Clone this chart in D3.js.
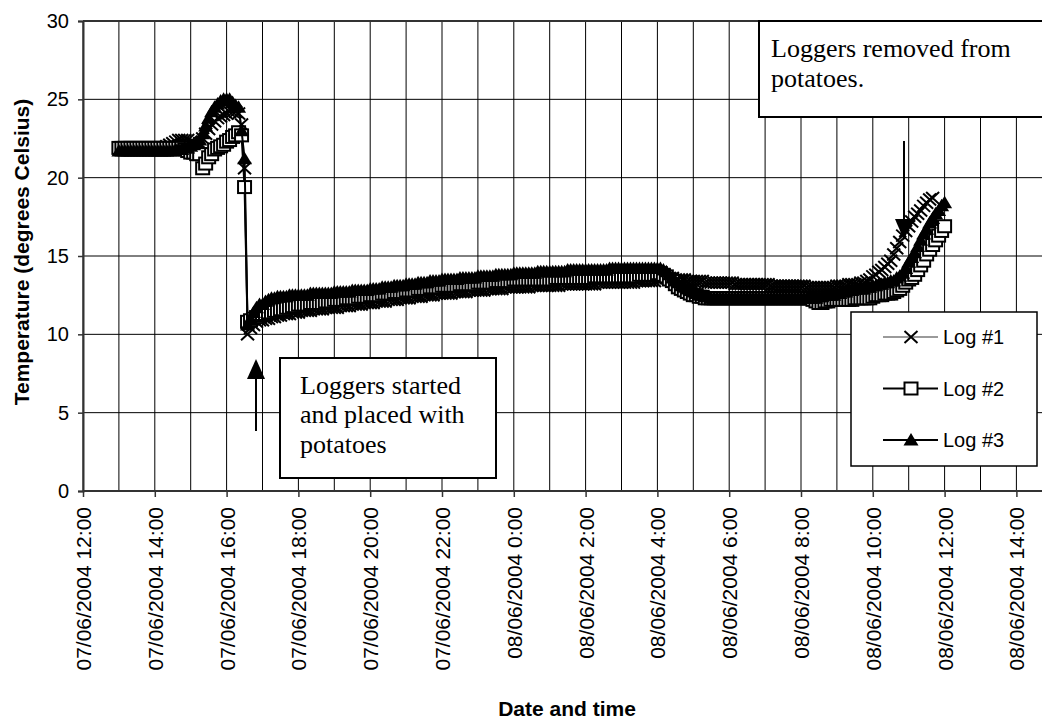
<!DOCTYPE html>
<html>
<head>
<meta charset="utf-8">
<script src="https://cdn.jsdelivr.net/npm/d3@7"></script>
<style>
  body { margin: 0; background: #fff; }
  svg { display: block; }
</style>
</head>
<body>
<svg id="chart" width="1042" height="722"></svg>
<script>
// Logger readings, one every 5 minutes starting 07/06/2004 13:00 (one row per hour)
const seriesNames = ["Log #1", "Log #2", "Log #3"];
const startTime = new Date(2004, 5, 7, 13, 0);
const stepMinutes = 5;

const log1 = [
  21.9,21.9,21.9,21.9,21.9,21.9,21.9,21.9,21.9,21.9,21.9,21.9,
  21.9,21.9,21.9,21.9,22.0,22.1,22.2,22.3,22.4,22.4,22.4,22.4,
  22.3,22.2,22.1,22.2,22.5,22.8,23.1,23.4,23.6,23.8,23.9,24.0,
  24.1,24.2,24.2,24.2,24.1,23.4,20.6,10.0,10.4,10.6,10.8,10.9,
  10.9,11.0,11.0,11.1,11.1,11.2,11.2,11.3,11.3,11.3,11.4,11.4,
  11.4,11.5,11.5,11.5,11.5,11.6,11.6,11.6,11.6,11.7,11.7,11.7,
  11.7,11.7,11.8,11.8,11.8,11.8,11.9,11.9,11.9,11.9,12.0,12.0,
  12.0,12.0,12.1,12.1,12.1,12.1,12.2,12.2,12.2,12.2,12.3,12.3,
  12.3,12.3,12.4,12.4,12.4,12.4,12.5,12.5,12.5,12.5,12.6,12.6,
  12.6,12.6,12.6,12.6,12.7,12.7,12.7,12.7,12.7,12.8,12.8,12.8,
  12.8,12.8,12.8,12.9,12.9,12.9,12.9,12.9,12.9,13.0,13.0,13.0,
  13.0,13.0,13.0,13.0,13.0,13.0,13.1,13.1,13.1,13.1,13.1,13.1,
  13.1,13.1,13.1,13.1,13.2,13.2,13.2,13.2,13.2,13.2,13.2,13.2,
  13.2,13.2,13.2,13.2,13.3,13.3,13.3,13.3,13.3,13.3,13.3,13.3,
  13.3,13.3,13.3,13.3,13.3,13.4,13.4,13.4,13.4,13.4,13.4,13.4,
  13.5,13.5,13.6,13.6,13.6,13.6,13.5,13.5,13.5,13.5,13.4,13.4,
  13.4,13.4,13.4,13.4,13.3,13.3,13.3,13.3,13.3,13.3,13.3,13.3,
  13.3,13.3,13.2,13.2,13.2,13.2,13.2,13.2,13.2,13.2,13.2,13.2,
  13.2,13.2,13.1,13.1,13.1,13.1,13.1,13.1,13.1,13.1,13.1,13.1,
  13.1,13.1,13.0,13.0,13.0,13.0,13.0,13.0,13.0,13.0,13.0,13.0,
  13.1,13.1,13.1,13.1,13.2,13.2,13.2,13.2,13.3,13.3,13.4,13.5,
  13.7,13.8,14.0,14.1,14.3,14.5,14.7,15.1,15.5,15.9,16.3,16.6,
  16.9,17.2,17.5,17.7,17.9,18.2,18.4,18.6,18.7
];

const log2 = [
  21.9,21.9,21.9,21.9,21.9,21.9,21.9,21.9,21.9,21.9,21.9,21.9,
  21.9,21.9,21.9,21.9,21.9,21.9,21.9,21.9,21.9,21.9,21.8,21.7,
  21.6,21.6,21.5,21.5,20.6,20.9,21.3,21.5,21.8,21.9,22.0,22.1,
  22.3,22.4,22.6,22.7,22.9,22.7,19.4,10.8,10.9,11.0,11.1,11.2,
  11.3,11.3,11.4,11.4,11.5,11.5,11.6,11.6,11.7,11.7,11.8,11.8,
  11.9,11.9,11.9,11.9,12.0,12.0,12.0,12.0,12.0,12.1,12.1,12.1,
  12.2,12.2,12.2,12.2,12.3,12.3,12.3,12.3,12.4,12.4,12.4,12.4,
  12.5,12.5,12.5,12.5,12.6,12.6,12.6,12.6,12.7,12.7,12.7,12.7,
  12.8,12.8,12.8,12.8,12.9,12.9,12.9,12.9,13.0,13.0,13.0,13.0,
  13.1,13.1,13.1,13.1,13.1,13.1,13.2,13.2,13.2,13.2,13.2,13.2,
  13.3,13.3,13.3,13.3,13.3,13.3,13.4,13.4,13.4,13.4,13.4,13.4,
  13.5,13.5,13.5,13.5,13.5,13.5,13.5,13.5,13.5,13.5,13.5,13.5,
  13.5,13.5,13.6,13.6,13.6,13.6,13.6,13.6,13.6,13.6,13.6,13.6,
  13.6,13.6,13.6,13.7,13.7,13.7,13.7,13.7,13.7,13.7,13.7,13.7,
  13.7,13.7,13.7,13.7,13.7,13.7,13.8,13.8,13.8,13.8,13.8,13.8,
  13.9,13.9,13.8,13.7,13.5,13.4,13.2,13.0,12.9,12.8,12.7,12.6,
  12.5,12.5,12.4,12.4,12.3,12.3,12.3,12.3,12.3,12.3,12.3,12.3,
  12.3,12.3,12.3,12.3,12.3,12.3,12.3,12.3,12.3,12.3,12.3,12.3,
  12.3,12.3,12.3,12.3,12.3,12.3,12.3,12.3,12.3,12.3,12.3,12.3,
  12.3,12.3,12.3,12.3,12.2,12.1,12.0,12.0,12.1,12.1,12.2,12.2,
  12.2,12.2,12.2,12.2,12.2,12.2,12.3,12.3,12.3,12.3,12.3,12.3,
  12.4,12.5,12.5,12.5,12.6,12.6,12.6,12.7,12.8,12.9,13.1,13.3,
  13.5,13.6,13.8,14.1,14.4,14.7,15.1,15.4,15.7,16.0,16.3,16.6,
  16.9
];

const log3 = [
  21.7,21.7,21.7,21.7,21.7,21.7,21.7,21.7,21.7,21.7,21.7,21.7,
  21.7,21.7,21.7,21.7,21.7,21.7,21.7,21.8,21.8,21.8,21.9,21.9,
  22.0,22.1,22.2,22.4,22.8,23.3,23.8,24.2,24.5,24.7,24.9,25.0,
  25.0,25.0,24.8,24.6,24.5,23.0,21.2,10.6,11.0,11.4,11.7,11.9,
  11.9,12.1,12.2,12.3,12.3,12.4,12.4,12.4,12.4,12.5,12.5,12.5,
  12.5,12.5,12.5,12.5,12.6,12.6,12.6,12.6,12.6,12.6,12.6,12.6,
  12.7,12.7,12.7,12.7,12.7,12.7,12.8,12.8,12.8,12.8,12.8,12.8,
  12.9,12.9,12.9,12.9,13.0,13.0,13.0,13.0,13.1,13.1,13.1,13.1,
  13.2,13.2,13.2,13.2,13.3,13.3,13.3,13.3,13.4,13.4,13.4,13.4,
  13.5,13.5,13.5,13.5,13.5,13.5,13.6,13.6,13.6,13.6,13.6,13.6,
  13.7,13.7,13.7,13.7,13.7,13.7,13.8,13.8,13.8,13.8,13.8,13.8,
  13.9,13.9,13.9,13.9,13.9,13.9,13.9,13.9,14.0,14.0,14.0,14.0,
  14.0,14.0,14.0,14.0,14.0,14.0,14.1,14.1,14.1,14.1,14.1,14.1,
  14.1,14.1,14.1,14.1,14.1,14.1,14.1,14.1,14.2,14.2,14.2,14.2,
  14.2,14.2,14.2,14.2,14.2,14.2,14.2,14.2,14.2,14.2,14.2,14.2,
  14.2,14.2,14.1,14.0,13.8,13.6,13.4,13.3,13.1,13.0,12.9,12.8,
  12.7,12.6,12.5,12.5,12.4,12.4,12.3,12.3,12.3,12.3,12.3,12.3,
  12.3,12.3,12.3,12.3,12.3,12.3,12.3,12.3,12.3,12.3,12.3,12.3,
  12.3,12.3,12.3,12.3,12.3,12.3,12.3,12.3,12.3,12.3,12.3,12.3,
  12.3,12.3,12.3,12.3,12.3,12.3,12.4,12.4,12.5,12.5,12.5,12.5,
  12.6,12.6,12.7,12.7,12.8,12.8,12.9,12.9,12.9,12.9,13.0,13.0,
  13.1,13.1,13.2,13.2,13.3,13.3,13.4,13.4,13.6,13.7,13.9,14.2,
  14.6,14.9,15.2,15.6,16.0,16.4,16.7,17.1,17.4,17.7,17.9,18.2,
  18.4
];

const yTicks = [0, 5, 10, 15, 20, 25, 30];
const xTickLabels = [
  "07/06/2004 12:00", "07/06/2004 14:00", "07/06/2004 16:00",
  "07/06/2004 18:00", "07/06/2004 20:00", "07/06/2004 22:00",
  "08/06/2004 0:00", "08/06/2004 2:00", "08/06/2004 4:00",
  "08/06/2004 6:00", "08/06/2004 8:00", "08/06/2004 10:00",
  "08/06/2004 12:00", "08/06/2004 14:00"
];
const notes = {
  started: ["Loggers started", "and placed with", "potatoes"],
  removed: ["Loggers removed from", "potatoes."]
};

const svg = d3.select("#chart");
const W = 1042, H = 722;
const plotLeft = 83, plotTop = 21, plotBottom = 491;

const tStart = new Date(2004, 5, 7, 12, 0);
const tEnd = new Date(2004, 5, 8, 14, 0);
const x = d3.scaleTime().domain([tStart, tEnd]).range([plotLeft, 1016.4]);
const y = d3.scaleLinear().domain([0, 30]).range([plotBottom, plotTop]);

const timeAt = i => d3.timeMinute.offset(startTime, i * stepMinutes);
const toPoints = arr => arr.map((v, i) => ({ t: timeAt(i), v }));
const series = [
  { name: seriesNames[0], pts: toPoints(log1), line: "#9a9a9a", marker: "x" },
  { name: seriesNames[1], pts: toPoints(log2), line: "#000", marker: "square" },
  { name: seriesNames[2], pts: toPoints(log3), line: "#000", marker: "triangle" }
];

svg.append("defs").append("clipPath").attr("id", "plotclip")
  .append("rect").attr("x", plotLeft).attr("y", plotTop - 2)
  .attr("width", W - plotLeft).attr("height", plotBottom - plotTop + 4);

// grid: hourly verticals, 5-degree horizontals
const plot = svg.append("g");
const gridHours = d3.timeHour.range(tStart, d3.timeHour.offset(tEnd, 2));
plot.append("g").selectAll("line").data(gridHours).join("line")
  .attr("x1", d => x(d)).attr("x2", d => x(d))
  .attr("y1", plotTop).attr("y2", plotBottom)
  .attr("stroke", "#000").attr("stroke-width", 1);
plot.append("g").selectAll("line").data(yTicks.filter(v => v > 0)).join("line")
  .attr("x1", plotLeft).attr("x2", W)
  .attr("y1", d => y(d)).attr("y2", d => y(d))
  .attr("stroke", "#000").attr("stroke-width", 1);

// marker shapes
function drawMarker(g, type) {
  if (type === "x") {
    g.append("path").attr("d", "M-6.5,-6L6.5,6M-6.5,6L6.5,-6")
      .attr("stroke", "#000").attr("stroke-width", 2).attr("fill", "none");
  } else if (type === "square") {
    g.append("rect").attr("x", -6.5).attr("y", -6).attr("width", 13).attr("height", 12)
      .attr("fill", "#fff").attr("stroke", "#000").attr("stroke-width", 2);
  } else {
    g.append("path").attr("d", "M0,-7L7.5,5.5L-7.5,5.5Z").attr("fill", "#000");
  }
}

const dataLayer = svg.append("g").attr("clip-path", "url(#plotclip)");
const lineGen = d3.line().x(d => x(d.t)).y(d => y(d.v));
series.forEach(s => {
  const g = dataLayer.append("g");
  g.append("path").datum(s.pts).attr("d", lineGen)
    .attr("fill", "none").attr("stroke", s.line).attr("stroke-width", 2);
  g.selectAll("g.m").data(s.pts).join("g").attr("class", "m")
    .attr("transform", d => `translate(${x(d.t)},${y(d.v)})`)
    .each(function () { drawMarker(d3.select(this), s.marker); });
});

// axes
const yAxis = d3.axisLeft(y).tickValues(yTicks).tickSize(5).tickPadding(9);
const yG = svg.append("g").attr("transform", `translate(${plotLeft},0)`).call(yAxis);
yG.select(".domain").attr("stroke", "#333").attr("stroke-width", 2);
yG.selectAll(".tick line").attr("stroke", "#333").attr("stroke-width", 1.5);
yG.selectAll(".tick text").attr("font-family", "Liberation Sans, Arial, sans-serif")
  .attr("font-size", 20).attr("fill", "#000");

const xTickDates = d3.timeHour.every(2).range(tStart, d3.timeMinute.offset(tEnd, 1));
const xAxis = d3.axisBottom(x).tickValues(xTickDates)
  .tickFormat((d, i) => xTickLabels[i]).tickSize(6).tickSizeOuter(0);
const xG = svg.append("g").attr("transform", `translate(0,${plotBottom})`).call(xAxis);
xG.select(".domain").remove();
xG.selectAll(".tick line").attr("stroke", "#333").attr("stroke-width", 1.5);
xG.selectAll(".tick text")
  .attr("font-family", "Liberation Sans, Arial, sans-serif").attr("font-size", 21).attr("fill", "#000")
  .attr("text-anchor", "end").attr("transform", "translate(0,16) rotate(-90)")
  .attr("x", 0).attr("y", 0).attr("dy", "0.36em");

svg.append("line").attr("x1", plotLeft).attr("x2", W).attr("y1", plotBottom).attr("y2", plotBottom)
  .attr("stroke", "#333").attr("stroke-width", 2);
svg.append("line").attr("x1", plotLeft).attr("x2", W).attr("y1", plotTop).attr("y2", plotTop)
  .attr("stroke", "#333").attr("stroke-width", 2);

// axis titles
svg.append("text").attr("x", 567).attr("y", 716).attr("text-anchor", "middle")
  .attr("font-family", "Liberation Sans, Arial, sans-serif").attr("font-weight", "bold")
  .attr("font-size", 21).text("Date and time");
svg.append("text").attr("transform", "translate(29,252) rotate(-90)").attr("text-anchor", "middle")
  .attr("font-family", "Liberation Sans, Arial, sans-serif").attr("font-weight", "bold")
  .attr("font-size", 21).text("Temperature (degrees Celsius)");

// annotation boxes
function noteBox(bx, by, bw, bh, tx, baselines, lines) {
  const g = svg.append("g");
  g.append("rect").attr("x", bx).attr("y", by).attr("width", bw).attr("height", bh)
    .attr("fill", "#fff").attr("stroke", "#000").attr("stroke-width", 2);
  lines.forEach((t, i) => g.append("text").attr("x", tx).attr("y", baselines[i])
    .attr("font-family", "Liberation Serif, Times New Roman, serif").attr("font-size", 26)
    .attr("fill", "#000").text(t));
}
noteBox(280, 358, 216, 120, 300, [394, 423, 453], notes.started);
noteBox(759, 21, 300, 96, 771, [57, 87], notes.removed);

// arrows
function arrow(ax, y1, y2, dir) {
  const g = svg.append("g");
  const headBase = dir < 0 ? y2 + 20 : y2 - 21;
  g.append("line").attr("x1", ax).attr("x2", ax).attr("y1", y1).attr("y2", headBase)
    .attr("stroke", "#000").attr("stroke-width", 2);
  g.append("path").attr("d", `M${ax},${y2}L${ax + 9},${headBase}L${ax - 9},${headBase}Z`).attr("fill", "#000");
}
arrow(256, 431, 359, -1);
arrow(904, 141, 240, 1);

// legend
const lg = svg.append("g");
lg.append("rect").attr("x", 851).attr("y", 312).attr("width", 186).attr("height", 154)
  .attr("fill", "#fff").attr("stroke", "#000").attr("stroke-width", 1.5);
series.forEach((s, i) => {
  const ly = 337 + i * 51.5;
  lg.append("line").attr("x1", 883).attr("x2", 938).attr("y1", ly).attr("y2", ly)
    .attr("stroke", s.line).attr("stroke-width", 2);
  const m = lg.append("g").attr("transform", `translate(911,${ly})`);
  drawMarker(m, s.marker);
  lg.append("text").attr("x", 943).attr("y", ly + 7)
    .attr("font-family", "Liberation Sans, Arial, sans-serif").attr("font-size", 20).text(s.name);
});
</script>
</body>
</html>
